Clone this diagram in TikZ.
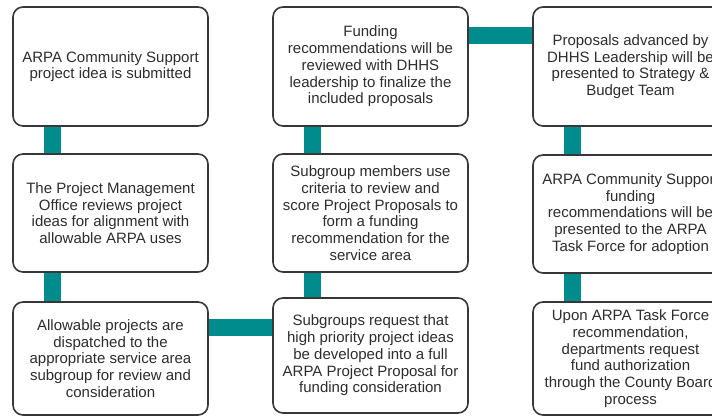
\documentclass[tikz,border=0pt]{standalone}
\usepackage{fontspec}
\setmainfont{Liberation Sans}
\usetikzlibrary{backgrounds}
\definecolor{barteal}{RGB}{0,140,140}
\definecolor{boxline}{RGB}{55,55,55}
\definecolor{boxtext}{RGB}{45,45,45}
\tikzset{
	stepbox/.style={draw=boxline,line width=1.6pt,rounded corners=10pt,fill=white,text=boxtext,
		minimum width=195pt,inner sep=0pt,align=center,font=\fontsize{15}{16.7}\selectfont},
	bar/.style={draw=barteal,line width=17pt},
}
\begin{document}
\begin{tikzpicture}[x=1pt,y=-1pt]
	\useasboundingbox (0,0) rectangle (712,417);
	\clip (0,0) rectangle (712,417);
	% first column
	\node[stepbox,minimum height=119pt] (idea) at (110.5,66.5) {ARPA Community Support\\project idea is submitted};
	\node[stepbox,minimum height=118pt] (pmo) at (110.5,213) {The Project Management\\Office reviews project\\ideas for alignment with\\allowable ARPA uses};
	\node[stepbox,minimum height=113pt] (dispatch) at (110.5,358.5) {Allowable projects are\\dispatched to the\\appropriate service area\\subgroup for review and\\consideration};
	% second column
	\node[stepbox,minimum height=115pt] (request) at (370.5,355.5) {Subgroups request that\\high priority project ideas\\be developed into a full\\ARPA Project Proposal for\\funding consideration};
	\node[stepbox,minimum height=118pt] (score) at (370.5,213) {Subgroup members use\\criteria to review and\\score Project Proposals to\\form a funding\\recommendation for the\\service area};
	\node[stepbox,minimum height=119pt] (review) at (370.5,66.5) {Funding\\recommendations will be\\reviewed with DHHS\\leadership to finalize the\\included proposals};
	% third column
	\node[stepbox,minimum height=119pt] (advance) at (630.5,66.5) {Proposals advanced by\\DHHS Leadership will be\\presented to Strategy \&\\Budget Team};
	\node[stepbox,minimum height=118pt] (taskforce) at (630.5,214) {ARPA Community Support\\funding\\recommendations will be\\presented to the ARPA\\Task Force for adoption};
	\node[stepbox,minimum height=113pt] (authorize) at (630.5,358.5) {Upon ARPA Task Force\\recommendation,\\departments request\\fund authorization\\through the County Board\\process};
	% connectors
	\begin{scope}[on background layer]
	\foreach \a/\b in {idea/pmo,pmo/dispatch,request/score,score/review,advance/taskforce,taskforce/authorize}
	\draw[bar] ([xshift=40pt]\a.south west) -- ([xshift=40pt]\a.south west |- \b.center);
	\draw[bar] ([yshift=-26pt]dispatch.north east) -- ([yshift=-26pt]dispatch.north east -| request.center);
	\draw[bar] ([yshift=-29pt]review.north east) -- ([yshift=-29pt]review.north east -| advance.center);
	\end{scope}
\end{tikzpicture}
\end{document}
